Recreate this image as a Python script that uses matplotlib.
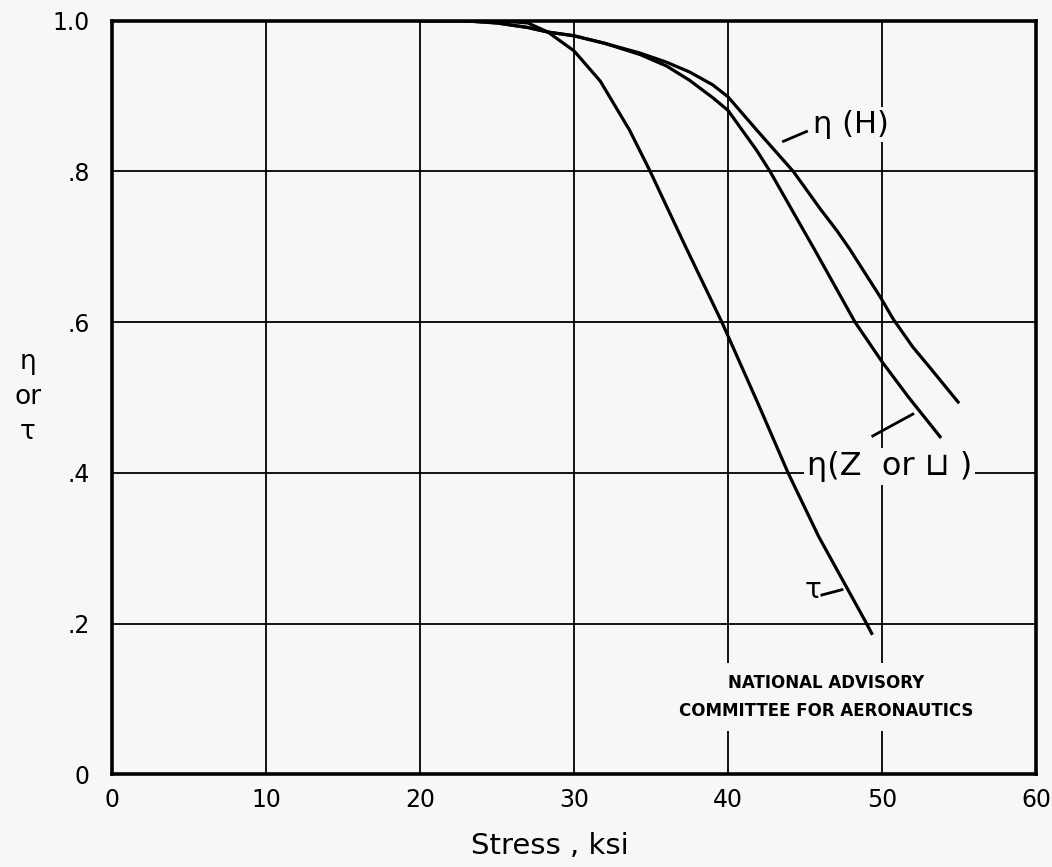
import matplotlib
matplotlib.use("Agg")
import matplotlib.pyplot as plt

# ---- data ----
tau_x = [20.0, 25.0, 27.0, 28.3, 30.0, 31.7, 33.6, 34.9, 37.2, 39.6, 41.95, 43.9, 45.9, 49.0, 49.33]
tau_y = [1.0, 1.0, 0.997, 0.985, 0.960, 0.920, 0.855, 0.802, 0.702, 0.600, 0.492, 0.400, 0.315, 0.200, 0.187]

etaH_x = [20.0, 22.8, 25.0, 27.0, 28.3, 30.0, 32.0, 34.3, 36.0, 37.5, 39.0, 40.0, 41.86, 44.24,
          46.0, 47.05, 47.9, 49.87, 50.73, 52.0, 53.1, 54.94]
etaH_y = [1.0, 1.0, 0.997, 0.991, 0.985, 0.980, 0.970, 0.957, 0.945, 0.932, 0.915, 0.899, 0.855, 0.800,
          0.750, 0.722, 0.697, 0.634, 0.604, 0.567, 0.540, 0.494]

etaZ_x = [20.0, 22.8, 25.0, 27.0, 28.3, 30.0, 32.0, 34.3, 36.0, 37.5, 39.0, 40.0, 41.86, 42.73,
          44.9, 45.6, 48.25, 50.0, 51.7, 53.77]
etaZ_y = [1.0, 1.0, 0.997, 0.991, 0.985, 0.980, 0.970, 0.955, 0.940, 0.921, 0.898, 0.881, 0.828, 0.800,
          0.722, 0.697, 0.600, 0.5475, 0.501, 0.448]

x_ticks = [0, 10, 20, 30, 40, 50, 60]
x_labels = ["0", "10", "20", "30", "40", "50", "60"]
y_ticks = [0, 0.2, 0.4, 0.6, 0.8, 1.0]
y_labels = ["0", ".2", ".4", ".6", ".8", "1.0"]

bg = "#f7f7f7"
fig = plt.figure(figsize=(10.52, 8.67), dpi=100, facecolor=bg)
ax = fig.add_axes([0.1065, 0.1069, 0.8783, 0.8692], facecolor=bg)

ax.set_xlim(0, 60)
ax.set_ylim(0, 1.0)
ax.set_xticks(x_ticks)
ax.set_xticklabels(x_labels, fontsize=17)
ax.set_yticks(y_ticks)
ax.set_yticklabels(y_labels, fontsize=17)
ax.tick_params(axis="x", length=0, pad=10)
ax.tick_params(axis="y", length=0, pad=16)
ax.grid(True, color="black", linewidth=1.3)
ax.set_axisbelow(True)
for s in ax.spines.values():
    s.set_linewidth(2.6)

lw = 2.3
ax.plot(tau_x, tau_y, color="black", lw=lw, zorder=3, solid_joinstyle="round")
ax.plot(etaH_x, etaH_y, color="black", lw=lw, zorder=3, solid_joinstyle="round")
ax.plot(etaZ_x, etaZ_y, color="black", lw=lw, zorder=3, solid_joinstyle="round")

box = dict(facecolor=bg, edgecolor="none", pad=2)

# eta(H) label + leader
ax.text(48.0, 0.862, "η (H)", fontsize=22, ha="center", va="center", bbox=box, zorder=4)
ax.plot([43.6, 45.1], [0.840, 0.853], color="black", lw=2.0, zorder=4)

# eta(Z or channel) label + leader
ax.text(50.5, 0.408, "η(Z  or ⊔ )", fontsize=23, ha="center", va="center", bbox=box, zorder=4)
ax.plot([49.4, 52.0], [0.449, 0.478], color="black", lw=2.0, zorder=4)

# tau label + leader
ax.text(45.5, 0.245, "τ", fontsize=20, ha="center", va="center", zorder=4)
ax.plot([46.1, 47.4], [0.238, 0.245], color="black", lw=2.0, zorder=4)

ax.text(46.4, 0.103, "NATIONAL ADVISORY\nCOMMITTEE FOR AERONAUTICS", fontsize=12,
        fontweight="bold", ha="center", va="center", linespacing=1.7,
        bbox=dict(facecolor=bg, edgecolor="none", pad=8), zorder=4)

fig.text(550 / 1052, 1 - 846 / 867, "Stress , ksi", fontsize=21, ha="center", va="center")
fig.text(28 / 1052, 1 - 397 / 867, "η\nor\nτ", fontsize=19, ha="center", va="center", linespacing=1.45)

fig.savefig("out.png", dpi=100, facecolor=bg)
